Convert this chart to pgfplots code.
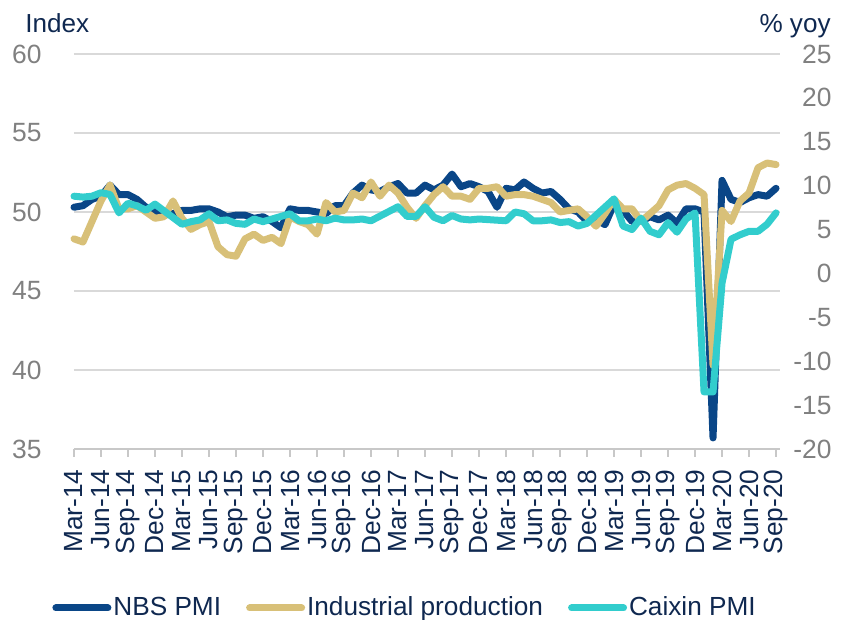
\documentclass[border=0pt]{standalone}
\usepackage{fontspec}
\setmainfont{Liberation Sans}
\usepackage{pgfplots}
\pgfplotsset{compat=1.18}
\definecolor{nbs}{RGB}{10,70,135}
\definecolor{ipg}{RGB}{216,192,120}
\definecolor{cxn}{RGB}{50,205,205}
\definecolor{navytxt}{RGB}{15,40,80}
\definecolor{ticktxt}{RGB}{128,128,128}
\definecolor{gridc}{RGB}{217,217,217}
\definecolor{axisc}{RGB}{200,200,200}
\begin{document}
\begin{tikzpicture}
\begin{axis}[
  name=ax, scale only axis, width=353bp, height=197.5bp,
  xmin=0, xmax=78.44, ymin=35, ymax=60,
  axis x line*=bottom, axis y line*=left,
  x axis line style={draw=axisc, line width=0.7bp},
  y axis line style={draw=none},
  ytick={35,40,45,50,55,60},
  yticklabels={35,40,45,50,55,60},
  ytick style={draw=none},
  ymajorgrids, grid style={draw=gridc, line width=0.7bp},
  yticklabel style={font=\fontsize{13.25}{15}\selectfont, text=ticktxt, inner sep=0pt, anchor=east, xshift=-12bp},
  xtick={0,3,...,78},
  xticklabels={Mar-14,Jun-14,Sep-14,Dec-14,Mar-15,Jun-15,Sep-15,Dec-15,Mar-16,Jun-16,Sep-16,Dec-16,Mar-17,Jun-17,Sep-17,Dec-17,Mar-18,Jun-18,Sep-18,Dec-18,Mar-19,Jun-19,Sep-19,Dec-19,Mar-20,Jun-20,Sep-20},
  tick align=outside, major tick length=4bp,
  xtick style={draw=axisc, line width=0.7bp},
  xticklabel style={rotate=90, anchor=east, font=\fontsize{13.2}{15}\selectfont, text=navytxt, inner xsep=6bp, inner ysep=0pt},
  clip=false,
  legend columns=3,
  legend image code/.code={\draw[#1, line cap=round] (0bp,0bp) -- (26bp,0bp);},
  legend style={draw=none, fill=none, at={(rel axis cs:0,0)}, anchor=west, xshift=-11bp, yshift=-79.5bp,
    font=\fontsize{13.15}{15}\selectfont, text=navytxt, inner sep=0pt,
    nodes={inner xsep=1bp, inner ysep=0pt},
    /tikz/every even column/.append style={column sep=11.5bp}},
]
\addplot[nbs, line width=3.5bp, line join=round, line cap=round] coordinates {
(0,50.3)(1,50.4)(2,50.8)(3,51.0)(4,51.7)(5,51.1)(6,51.1)(7,50.8)(8,50.3)(9,50.1)
(10,49.8)(11,49.9)(12,50.1)(13,50.1)(14,50.2)(15,50.2)(16,50.0)(17,49.7)(18,49.8)(19,49.8)(20,49.6)(21,49.7)
(22,49.4)(23,49.0)(24,50.2)(25,50.1)(26,50.1)(27,50.0)(28,49.9)(29,50.4)(30,50.4)(31,51.2)(32,51.7)(33,51.4)
(34,51.3)(35,51.6)(36,51.8)(37,51.2)(38,51.2)(39,51.7)(40,51.4)(41,51.7)(42,52.4)(43,51.6)(44,51.8)(45,51.6)
(46,51.3)(47,50.3)(48,51.5)(49,51.4)(50,51.9)(51,51.5)(52,51.2)(53,51.3)(54,50.8)(55,50.2)(56,50.0)(57,49.4)
(58,49.5)(59,49.2)(60,50.5)(61,50.1)(62,49.4)(63,49.4)(64,49.7)(65,49.5)(66,49.8)(67,49.3)(68,50.2)(69,50.2)
(70,50.0)(71,35.7)(72,52.0)(73,50.8)(74,50.6)(75,50.9)(76,51.1)(77,51.0)(78,51.5)
};
\addlegendentry{NBS PMI}
\addplot[ipg, line width=3.5bp, line join=round, line cap=round] coordinates {
(0,48.3)(1,48.1)(2,49.4)(3,50.7)(4,51.7)(5,50.2)(6,50.2)(7,50.4)(8,50.0)(9,49.6)
(10,49.7)(11,50.7)(12,49.6)(13,48.9)(14,49.2)(15,49.4)(16,47.8)(17,47.3)(18,47.2)(19,48.3)(20,48.6)(21,48.2)
(22,48.4)(23,48.0)(24,49.7)(25,49.4)(26,49.2)(27,48.6)(28,50.6)(29,50.0)(30,50.1)(31,51.2)(32,50.9)(33,51.9)
(34,51.0)(35,51.7)(36,51.2)(37,50.3)(38,49.6)(39,50.4)(40,51.1)(41,51.6)(42,51.0)(43,51.0)(44,50.8)(45,51.5)
(46,51.5)(47,51.6)(48,51.0)(49,51.1)(50,51.1)(51,51.0)(52,50.8)(53,50.6)(54,50.0)(55,50.1)(56,50.2)(57,49.7)
(58,49.1)(59,49.9)(60,50.8)(61,50.2)(62,50.2)(63,49.4)(64,49.9)(65,50.4)(66,51.4)(67,51.7)(68,51.8)(69,51.5)
(70,51.1)(71,40.3)(72,50.1)(73,49.4)(74,50.7)(75,51.2)(76,52.8)(77,53.1)(78,53.0)
};
\addlegendentry{Industrial production}
\addlegendimage{cxn, line width=3.5bp}
\addlegendentry{Caixin PMI}
\node[anchor=base west, inner sep=0pt, text=navytxt, font=\fontsize{13.1}{15}\selectfont] at ([xshift=-24.5bp, yshift=11bp]rel axis cs:0,1) {Index};
\node[anchor=base east, inner sep=0pt, text=navytxt, font=\fontsize{13.1}{15}\selectfont] at ([xshift=25.5bp, yshift=11bp]rel axis cs:1,1) {\% yoy};
\end{axis}
\begin{axis}[
  scale only axis, width=353bp, height=197.5bp,
  xmin=0, xmax=78.44, ymin=-20, ymax=25,
  hide x axis,
  axis y line*=right,
  y axis line style={draw=none},
  ytick={-20,-15,...,25},
  yticklabels={-20,-15,-10,-5,0,5,10,15,20,25},
  ytick style={draw=none},
  yticklabel style={font=\fontsize{13.25}{15}\selectfont, text=ticktxt, inner sep=0pt, anchor=east, xshift=26bp},
  clip=false,
]
\addplot[cxn, line width=3.5bp, line join=round, line cap=round] coordinates {
(0,8.8)(1,8.7)(2,8.8)(3,9.2)(4,9.0)(5,6.9)(6,8.0)(7,7.7)(8,7.2)(9,7.9)
(12,5.6)(13,5.9)(14,6.1)(15,6.8)(16,6.0)(17,6.1)(18,5.7)(19,5.6)(20,6.2)(21,5.9)
(24,6.8)(25,6.0)(26,6.0)(27,6.2)(28,6.0)(29,6.3)(30,6.1)(31,6.1)(32,6.2)(33,6.0)
(36,7.6)(37,6.5)(38,6.5)(39,7.6)(40,6.4)(41,6.0)(42,6.6)(43,6.2)(44,6.1)(45,6.2)
(48,6.0)(49,7.0)(50,6.8)(51,6.0)(52,6.0)(53,6.1)(54,5.8)(55,5.9)(56,5.4)(57,5.7)
(60,8.5)(61,5.4)(62,5.0)(63,6.3)(64,4.8)(65,4.4)(66,5.8)(67,4.7)(68,6.2)(69,6.9)
(70,-13.5)(71,-13.5)(72,-1.1)(73,3.9)(74,4.4)(75,4.8)(76,4.8)(77,5.6)(78,6.9)
};
\end{axis}
\pgfresetboundingbox
\useasboundingbox ([xshift=-37bp, yshift=-85.5bp]ax.south west) rectangle ([xshift=32bp, yshift=27bp]ax.north east);
\end{tikzpicture}
\end{document}
